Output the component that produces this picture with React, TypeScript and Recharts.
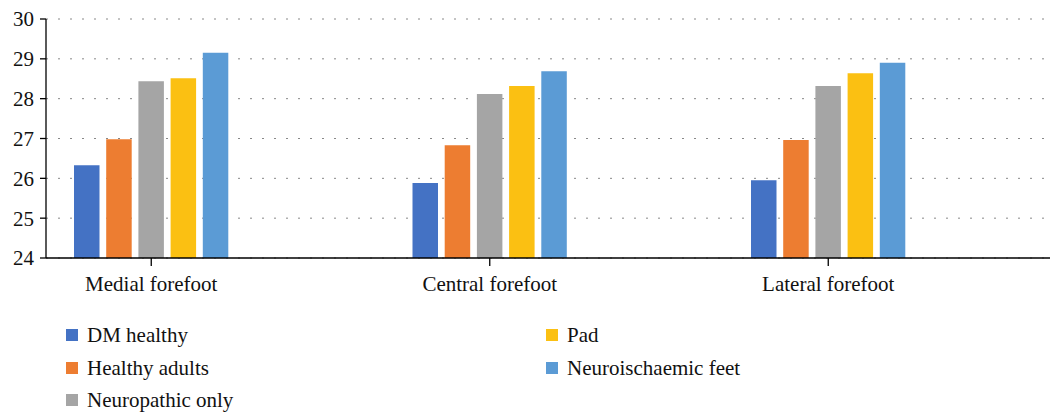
import React from 'react';
import { BarChart, Bar, XAxis, YAxis, CartesianGrid, Legend } from 'recharts';

const categories = ['Medial forefoot', 'Central forefoot', 'Lateral forefoot'];
const dmHealthy = [26.33, 25.88, 25.95];
const healthyAdults = [26.98, 26.83, 26.96];
const neuropathicOnly = [28.44, 28.12, 28.32];
const pad = [28.51, 28.32, 28.64];
const neuroischaemic = [29.15, 28.69, 28.9];
const yTicks = [24, 25, 26, 27, 28, 29, 30];

const seriesNames = ['DM healthy', 'Healthy adults', 'Neuropathic only', 'Pad', 'Neuroischaemic feet'];
const seriesKeys = ['dm', 'ha', 'no', 'pad', 'ni'];
const seriesColors = ['#4472C4', '#ED7D31', '#A5A5A5', '#FBC012', '#5B9BD5'];

const data = categories.map((c, i) => ({
  name: c,
  dm: dmHealthy[i],
  ha: healthyAdults[i],
  no: neuropathicOnly[i],
  pad: pad[i],
  ni: neuroischaemic[i],
}));

const FONT = "'Liberation Serif', 'DejaVu Serif', serif";

const LegendContent = (props: any) => {
  const payload = [...(props.payload || [])].sort(
    (a: any, b: any) => seriesNames.indexOf(a.value) - seriesNames.indexOf(b.value)
  );
  const colX = [66, 546];
  const rowY = [335, 368, 400];
  return (
    <div style={{ position: 'relative', width: 1054, height: 413, fontFamily: FONT }}>
      {payload.map((p: any, i: number) => {
        const col = i < 3 ? 0 : 1;
        const row = i < 3 ? i : i - 3;
        return (
          <div
            key={i}
            style={{
              position: 'absolute',
              left: colX[col],
              top: rowY[row] - 13,
              height: 26,
              display: 'flex',
              alignItems: 'center',
              fontFamily: FONT,
              fontSize: 21,
              color: '#111',
              whiteSpace: 'nowrap',
            }}
          >
            <span style={{ display: 'inline-block', width: 12, height: 12, background: p.color, marginRight: 9 }} />
            <span style={{ fontFamily: FONT }}>{p.value}</span>
          </div>
        );
      })}
    </div>
  );
};

export default function App() {
  return (
    <div style={{ position: 'absolute', left: 0, top: 0, width: 1054, height: 413, background: '#fff', fontFamily: FONT }}>
      <BarChart
        width={1054}
        height={413}
        data={data}
        margin={{ top: 19, right: 4, left: 0, bottom: 115 }}
        barGap={6.7}
        barSize={25.5}
      >
        <CartesianGrid vertical={false} stroke="#888" strokeDasharray="2 10" />
        <XAxis
          dataKey="name"
          padding={{ left: -64, right: 52.5 }}
          axisLine={{ stroke: '#000', strokeWidth: 1.3 }}
          tickLine={{ stroke: '#000', strokeWidth: 1.3 }}
          tickSize={8}
          tickMargin={10}
          height={40}
          tick={{ fill: '#111', fontFamily: FONT, fontSize: 21 }}
          interval={0}
        />
        <YAxis
          domain={[24, 30]}
          ticks={yTicks}
          width={46}
          axisLine={{ stroke: '#000', strokeWidth: 1.3 }}
          tickLine={{ stroke: '#000', strokeWidth: 1.3 }}
          tickSize={6}
          tickMargin={6}
          tick={{ fill: '#111', fontFamily: FONT, fontSize: 21 }}
          allowDataOverflow
        />
        <Legend
          layout="horizontal"
          verticalAlign="middle"
          align="center"
          content={<LegendContent />}
          wrapperStyle={{ position: 'absolute', left: 0, top: 0, width: 1054, height: 413, pointerEvents: 'none' }}
        />
        {seriesKeys.map((k, i) => (
          <Bar key={k} dataKey={k} name={seriesNames[i]} fill={seriesColors[i]} isAnimationActive={false} />
        ))}
      </BarChart>
    </div>
  );
}
